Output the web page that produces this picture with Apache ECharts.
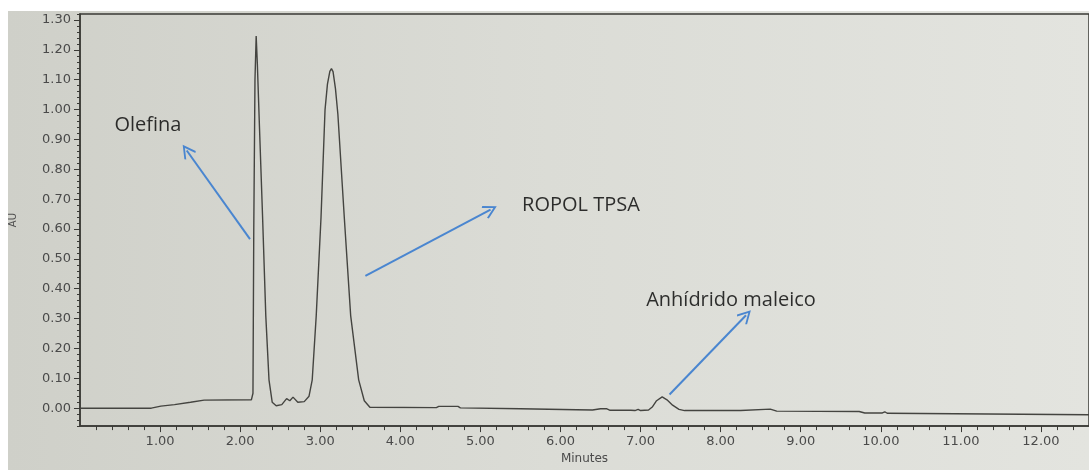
<!DOCTYPE html>
<html>
<head>
<meta charset="utf-8">
<script src="https://cdn.jsdelivr.net/npm/echarts@6/dist/echarts.min.js"></script>
<style>
  html, body { margin: 0; padding: 0; background: #fff; }
  #chart { width: 1089px; height: 470px; }
</style>
</head>
<body>
<div id="chart"></div>
<script>
const times = [0.00, 0.89, 1.01, 1.18, 1.38, 1.55, 2.14, 2.16, 2.17, 2.185, 2.20, 2.215, 2.24, 2.28, 2.32, 2.36, 2.40,
  2.45, 2.52, 2.58, 2.62, 2.66, 2.72, 2.80, 2.86, 2.90, 2.95, 3.01, 3.06, 3.09, 3.12, 3.14, 3.16, 3.19, 3.22, 3.30, 3.38, 3.48,
  3.55, 3.62, 4.45, 4.48, 4.72, 4.75, 5.50, 6.20, 6.40, 6.50, 6.58, 6.62, 6.88, 6.90, 6.93, 6.97, 7.00, 7.10, 7.15,
  7.20, 7.27, 7.33, 7.40, 7.48, 7.55, 8.25, 8.27, 8.62, 8.70, 9.73, 9.80, 10.02, 10.05, 10.08, 12.60];
const au = [0.000, 0.000, 0.007, 0.012, 0.020, 0.027, 0.028, 0.050, 0.600, 1.100, 1.246, 1.150, 0.950, 0.640, 0.310, 0.095, 0.020,
  0.008, 0.012, 0.032, 0.025, 0.037, 0.020, 0.022, 0.040, 0.095, 0.310, 0.640, 1.000, 1.085, 1.128, 1.137, 1.127, 1.070, 0.985, 0.640, 0.310, 0.095,
  0.025, 0.003, 0.002, 0.006, 0.006, 0.001, -0.002, -0.005, -0.006, -0.002, -0.002, -0.007, -0.007, -0.004, -0.008, -0.004, -0.008, -0.006, 0.005,
  0.025, 0.038, 0.028, 0.010, -0.004, -0.008, -0.008, -0.003, -0.003, -0.010, -0.011, -0.016, -0.016, -0.012, -0.017, -0.022];

const yTickLabels = [0.00, 0.10, 0.20, 0.30, 0.40, 0.50, 0.60, 0.70, 0.80, 0.90, 1.00, 1.10, 1.20, 1.30];
const xTickLabels = [1, 2, 3, 4, 5, 6, 7, 8, 9, 10, 11, 12];

// anotaciones
const noteNames = ['Olefina', 'ROPOL TPSA', 'Anhídrido maleico'];
const noteAt = [[0.43, 0.947], [5.52, 0.679], [7.07, 0.36]];
const arrowFrom = [[2.123, 0.566], [3.564, 0.443], [7.362, 0.046]];
const arrowTo = [[1.333, 0.863], [5.127, 0.665], [8.317, 0.311]];

const yMinorTicks = [];
for (let i = -3; i <= 66; i++) yMinorTicks.push(+(i * 0.02).toFixed(2));
const xMinorTicks = [];
for (let i = 1; i <= 63; i++) xMinorTicks.push(+(i * 0.2).toFixed(1));

const trace = times.map((t, i) => [t, au[i]]);
const notes = noteNames.map((n, i) => ({ name: n, value: noteAt[i] }));
const arrows = arrowFrom.map((a, i) => [{ coord: a }, { coord: arrowTo[i] }]);

const chevron = 'path://M0,0 L7,10 L5.6,11 L0,3 L-5.6,11 L-7,10 Z';
const axisFont = { fontFamily: 'DejaVu Sans', fontSize: 13, color: '#4a4a4a' };

const myChart = echarts.init(document.getElementById('chart'));
const option = {
  animation: false,
  backgroundColor: '#ffffff',
  graphic: [{
    type: 'rect',
    z: -10,
    silent: true,
    shape: { x: 8, y: 11, width: 1081, height: 459 },
    style: {
      fill: new echarts.graphic.LinearGradient(0, 0, 1, 0, [
        { offset: 0, color: '#cfd0c9' },
        { offset: 0.5, color: '#dbdcd6' },
        { offset: 1, color: '#e3e4df' }
      ])
    }
  }],
  grid: {
    left: 78, top: 14, right: -10, bottom: 35,
    show: true,
    borderColor: '#3a3a36',
    borderWidth: 1.5,
    backgroundColor: 'transparent'
  },
  xAxis: [{
    type: 'value',
    min: 0, max: 12.6,
    name: 'Minutes',
    nameLocation: 'middle',
    nameGap: 26,
    nameTextStyle: { fontFamily: 'DejaVu Sans', fontSize: 12, color: '#4a4a4a' },
    axisLine: { show: true, onZero: false, lineStyle: { color: '#3a3a36', width: 1.5 } },
    axisTick: { show: true, customValues: xTickLabels, length: 6, lineStyle: { color: '#3a3a36' } },
    axisLabel: Object.assign({ customValues: xTickLabels, margin: 9, formatter: v => v.toFixed(2) }, axisFont),
    splitLine: { show: false }
  }, {
    type: 'value',
    min: 0, max: 12.6,
    position: 'bottom',
    axisLine: { show: true, onZero: false, lineStyle: { color: 'rgba(0,0,0,0)' } },
    axisTick: { show: true, customValues: xMinorTicks, length: 4, lineStyle: { color: '#3a3a36' } },
    axisLabel: { show: false },
    splitLine: { show: false }
  }],
  yAxis: [{
    type: 'value',
    min: -0.06, max: 1.32,
    name: 'AU',
    nameLocation: 'middle',
    nameRotate: 90,
    nameGap: 62,
    nameTextStyle: { fontFamily: 'DejaVu Sans', fontSize: 10, color: '#505050' },
    axisLine: { show: true, onZero: false, lineStyle: { color: '#3a3a36', width: 1.5 } },
    axisTick: { show: true, customValues: yTickLabels, length: 6, lineStyle: { color: '#3a3a36' } },
    axisLabel: Object.assign({ customValues: yTickLabels, margin: 9, formatter: v => v.toFixed(2) }, axisFont),
    splitLine: { show: false }
  }, {
    type: 'value',
    min: -0.06, max: 1.32,
    position: 'left',
    axisLine: { show: true, onZero: false, lineStyle: { color: 'rgba(0,0,0,0)' } },
    axisTick: { show: true, customValues: yMinorTicks, length: 3, lineStyle: { color: '#3a3a36' } },
    axisLabel: { show: false },
    splitLine: { show: false }
  }],
  series: [{
    name: 'AU',
    type: 'line',
    data: trace,
    showSymbol: false,
    symbol: 'none',
    lineStyle: { color: '#444440', width: 1.4 },
    silent: true
  }, {
    name: 'notas',
    type: 'scatter',
    data: notes,
    symbolSize: 0,
    silent: true,
    label: {
      show: true,
      position: 'right',
      distance: 0,
      formatter: p => p.name,
      fontFamily: 'Open Sans',
      fontSize: 20,
      color: '#000000'
    },
    markLine: {
      silent: true,
      symbol: ['none', chevron],
      symbolSize: 14,
      label: { show: false },
      lineStyle: { color: '#4a86d0', width: 2, type: 'solid' },
      emphasis: { disabled: true },
      data: arrows
    }
  }]
};
myChart.setOption(option);
</script>
</body>
</html>
